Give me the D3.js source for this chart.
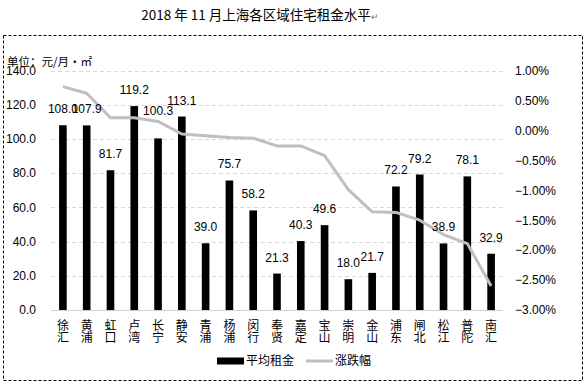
<!DOCTYPE html>
<html>
<head>
<meta charset="utf-8">
<script src="https://cdn.jsdelivr.net/npm/d3@7"></script>
<style>
  html, body { margin: 0; padding: 0; background: #fff; }
  svg { display: block; }
</style>
</head>
<body>
<svg id="chart" width="587" height="382"></svg>
<script>
const title = "2018 年 11 月上海各区域住宅租金水平";
const unitLabel = "单位：元/月·㎡";
const districts = ["徐汇","黄浦","虹口","卢湾","长宁","静安","青浦","杨浦","闵行","奉贤","嘉定","宝山","崇明","金山","浦东","闸北","松江","普陀","南汇"];
const avgRent = [108.0,107.9,81.7,119.2,100.3,113.1,39.0,75.7,58.2,21.3,40.3,49.6,18.0,21.7,72.2,79.2,38.9,78.1,32.9];
const changePct = [0.73,0.62,0.21,0.21,0.15,-0.06,-0.09,-0.12,-0.13,-0.26,-0.26,-0.42,-0.99,-1.36,-1.37,-1.50,-1.74,-1.89,-2.60];
const leftTicks = [0,20,40,60,80,100,120,140];
const rightTicks = [1.0,0.5,0,-0.5,-1.0,-1.5,-2.0,-2.5,-3.0];
const seriesNames = ["平均租金","涨跌幅"];

const svg = d3.select("#chart");
const numFont = "'Liberation Sans', Arial, sans-serif";
const cjkFont = "'Noto Sans CJK SC', sans-serif";

const plot = { left: 51, right: 503, top: 70.5, bottom: 310 };

// frame
svg.append("rect")
  .attr("x", 3.5).attr("y", 35.5).attr("width", 579).attr("height", 345)
  .attr("fill", "none").attr("stroke", "#000").attr("stroke-width", 1)
  .attr("stroke-dasharray", "3,2");

// title
const t = svg.append("text")
  .attr("x", 260).attr("y", 20)
  .attr("text-anchor", "middle")
  .attr("font-family", cjkFont).attr("font-size", 13.5).attr("fill", "#000")
  .text(title);
t.append("tspan").attr("font-size", 9).attr("fill", "#777").text("↵");

const x = d3.scaleBand().domain(districts).range([plot.left, plot.right]).paddingInner(0.68).paddingOuter(0.34);
const yL = d3.scaleLinear().domain([0, 140]).range([plot.bottom, plot.top]);
const yR = d3.scaleLinear().domain([-3, 1]).range([plot.bottom, plot.top]);
const xc = d => x(d) + x.bandwidth() / 2;

// gridlines
svg.append("g").selectAll("line").data(leftTicks.filter(v => v > 0)).join("line")
  .attr("x1", plot.left).attr("x2", plot.right)
  .attr("y1", d => Math.round(yL(d)) + 0.5).attr("y2", d => Math.round(yL(d)) + 0.5)
  .attr("stroke", "#d9d9d9").attr("stroke-dasharray", "4,3");

// left axis
const axL = d3.axisLeft(yL).tickValues(leftTicks).tickFormat(d3.format(".1f")).tickSize(0).tickPadding(0);
const gL = svg.append("g").attr("transform", "translate(36,0)").call(axL);
gL.select(".domain").remove();
gL.selectAll("text").attr("font-family", numFont).attr("font-size", 12).attr("fill", "#000");

// right axis
const axR = d3.axisRight(yR).tickValues(rightTicks).tickFormat(d => d3.format(".2f")(d) + "%").tickSize(0).tickPadding(0);
const gR = svg.append("g").attr("transform", "translate(515,0)").call(axR);
gR.select(".domain").remove();
gR.selectAll("text").attr("font-family", numFont).attr("font-size", 12).attr("fill", "#000");

// bars
svg.append("g").selectAll("rect").data(districts).join("rect")
  .attr("x", d => x(d)).attr("width", x.bandwidth())
  .attr("y", (d, i) => yL(avgRent[i]))
  .attr("height", (d, i) => yL(0) - yL(avgRent[i]))
  .attr("fill", "#000");

// base line
svg.append("line")
  .attr("x1", plot.left).attr("x2", plot.right)
  .attr("y1", plot.bottom + 0.5).attr("y2", plot.bottom + 0.5)
  .attr("stroke", "#d0d0d0").attr("stroke-width", 1);

// change line
const line = d3.line().x((d, i) => xc(districts[i])).y(d => yR(d));
svg.append("path").datum(changePct)
  .attr("d", line)
  .attr("fill", "none").attr("stroke", "#bfbfbf").attr("stroke-width", 3)
  .attr("stroke-linejoin", "round");

// bar value labels
const lift = { "长宁": 11 };
svg.append("g").selectAll("text").data(districts).join("text")
  .attr("x", d => xc(d))
  .attr("y", (d, i) => yL(avgRent[i]) - 12 - (lift[d] || 0))
  .attr("text-anchor", "middle")
  .attr("font-family", numFont).attr("font-size", 12).attr("fill", "#000")
  .text((d, i) => d3.format(".1f")(avgRent[i]));

// category labels (vertical)
const cat = svg.append("g").selectAll("text").data(districts).join("text")
  .attr("text-anchor", "middle")
  .attr("font-family", cjkFont).attr("font-size", 12).attr("fill", "#000");
cat.each(function(d) {
  const el = d3.select(this);
  d.split("").forEach((ch, k) => {
    el.append("tspan").attr("x", xc(d)).attr("y", 330 + k * 11.5).text(ch);
  });
});

// unit label
svg.append("text")
  .attr("x", 7).attr("y", 66)
  .attr("font-family", cjkFont).attr("font-size", 11.5).attr("fill", "#000")
  .text(unitLabel);

// legend
const lg = svg.append("g");
lg.append("rect").attr("x", 217).attr("y", 357.5).attr("width", 27).attr("height", 7).attr("fill", "#000");
lg.append("text").attr("x", 246).attr("y", 365).attr("font-family", cjkFont).attr("font-size", 12).attr("fill", "#000").text(seriesNames[0]);
lg.append("line").attr("x1", 306).attr("x2", 333).attr("y1", 361).attr("y2", 361).attr("stroke", "#bfbfbf").attr("stroke-width", 3);
lg.append("text").attr("x", 335).attr("y", 365).attr("font-family", cjkFont).attr("font-size", 12).attr("fill", "#000").text(seriesNames[1]);
</script>
</body>
</html>
